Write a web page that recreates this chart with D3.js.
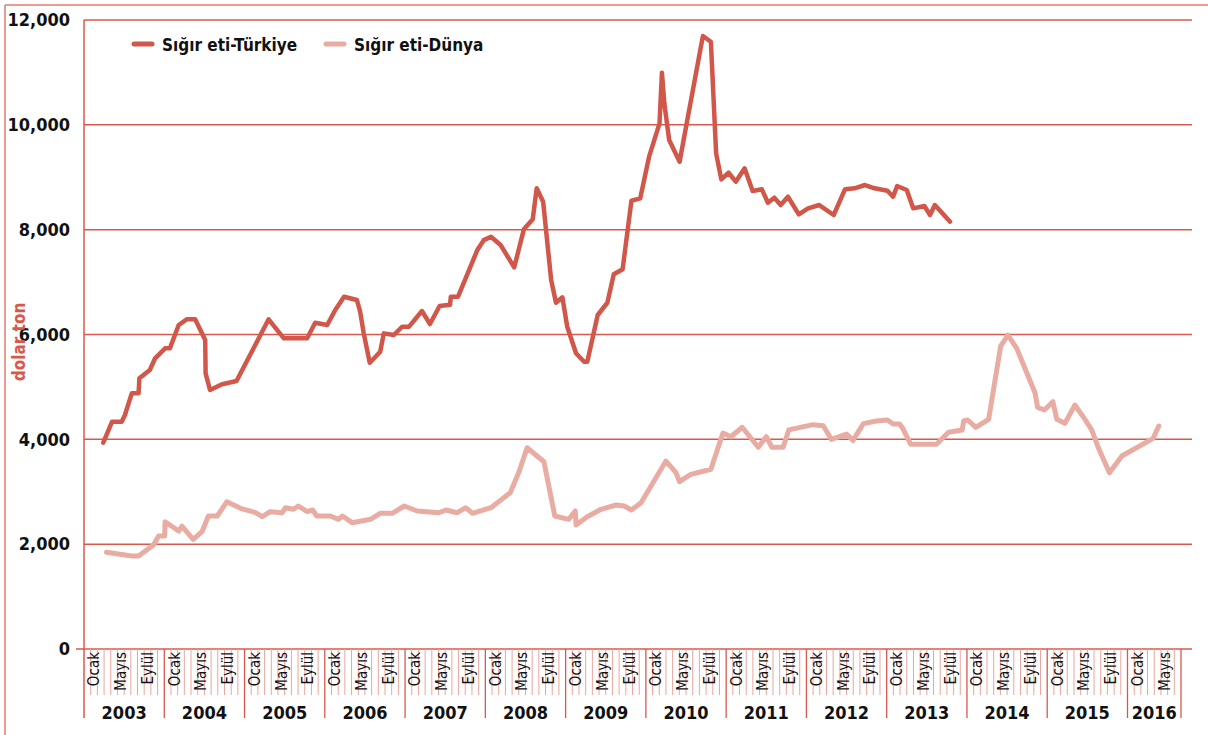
<!DOCTYPE html>
<html>
<head>
<meta charset="utf-8">
<script src="https://cdn.jsdelivr.net/npm/d3@7"></script>
<style>
  body { margin: 0; background: #fff; }
  svg text { font-family: "DejaVu Sans Condensed", "Liberation Sans Narrow", "Roboto", sans-serif; }
</style>
</head>
<body>
<svg width="1208" height="735"></svg>
<script>
// data (time as decimal year, values in dolar/ton)
const turkeyDates = [2003.24, 2003.35, 2003.47, 2003.51, 2003.595, 2003.68, 2003.69, 2003.82, 2003.886, 2004.01,
  2004.07, 2004.18, 2004.28, 2004.385, 2004.51, 2004.515, 2004.57, 2004.72, 2004.90, 2005.30,
  2005.49, 2005.78, 2005.88, 2006.03, 2006.13, 2006.24, 2006.40, 2006.44, 2006.485, 2006.56,
  2006.69, 2006.735, 2006.86, 2006.965, 2007.05, 2007.21, 2007.31, 2007.43, 2007.56, 2007.57,
  2007.66, 2007.78, 2007.90, 2007.98, 2008.07, 2008.19, 2008.36, 2008.48, 2008.59, 2008.64,
  2008.72, 2008.82, 2008.88, 2008.96, 2009.02, 2009.13, 2009.23, 2009.27, 2009.40, 2009.52,
  2009.60, 2009.71, 2009.82, 2009.93, 2010.04, 2010.17, 2010.20, 2010.23, 2010.29, 2010.42,
  2010.71, 2010.81, 2010.875, 2010.94, 2011.03, 2011.12, 2011.23, 2011.33, 2011.445, 2011.52,
  2011.60, 2011.68, 2011.77, 2011.905, 2012.02, 2012.16, 2012.34, 2012.48, 2012.60, 2012.73,
  2012.85, 2013.01, 2013.08, 2013.13, 2013.25, 2013.33, 2013.47, 2013.54, 2013.60, 2013.79];
const turkeyValues = [3936, 4336, 4336, 4464, 4878, 4878, 5164, 5322, 5546, 5736,
  5736, 6181, 6290, 6290, 5895, 5259, 4941, 5050, 5113, 6290,
  5927, 5927, 6225, 6181, 6467, 6721, 6658, 6435, 6022, 5462,
  5672, 6022, 5990, 6149, 6149, 6448, 6200, 6543, 6568, 6721,
  6721, 7167, 7612, 7800, 7865, 7707, 7282, 8006, 8197, 8789,
  8533, 7039, 6606, 6709, 6149, 5641, 5481, 5481, 6372, 6606,
  7148, 7244, 8552, 8598, 9392, 10029, 10994, 10410, 9710, 9296,
  11694, 11585, 9456, 8960, 9086, 8915, 9170, 8737, 8770, 8514,
  8610, 8470, 8629, 8293, 8407, 8470, 8280, 8770, 8789, 8852,
  8789, 8744, 8629, 8833, 8757, 8407, 8451, 8280, 8470, 8152];

const dunyaDates = [2003.28, 2003.595, 2003.68, 2003.865, 2003.93, 2004.005, 2004.01, 2004.18, 2004.22, 2004.36,
  2004.47, 2004.55, 2004.66, 2004.78, 2004.95, 2005.13, 2005.22, 2005.32, 2005.47, 2005.51,
  2005.61, 2005.67, 2005.78, 2005.85, 2005.90, 2006.07, 2006.17, 2006.22, 2006.34, 2006.57,
  2006.69, 2006.84, 2006.99, 2007.15, 2007.42, 2007.51, 2007.65, 2007.755, 2007.84, 2008.07,
  2008.31, 2008.42, 2008.52, 2008.73, 2008.865, 2009.04, 2009.12, 2009.13, 2009.27, 2009.44,
  2009.63, 2009.73, 2009.82, 2009.94, 2010.25, 2010.375, 2010.42, 2010.475, 2010.56, 2010.81,
  2010.96, 2011.06, 2011.20, 2011.40, 2011.50, 2011.57, 2011.71, 2011.78, 2012.08, 2012.21,
  2012.31, 2012.50, 2012.58, 2012.71, 2012.87, 2013.01, 2013.08, 2013.16, 2013.20, 2013.30,
  2013.62, 2013.77, 2013.94, 2013.96, 2014.01, 2014.11, 2014.27, 2014.42, 2014.51, 2014.62,
  2014.74, 2014.85, 2014.88, 2014.965, 2015.07, 2015.12, 2015.22, 2015.345, 2015.47, 2015.555,
  2015.64, 2015.775, 2015.93, 2016.32, 2016.39];
const dunyaValues = [1845, 1774, 1774, 1984, 2156, 2156, 2428, 2251, 2346, 2093,
  2238, 2537, 2537, 2810, 2684, 2608, 2524, 2619, 2600, 2696,
  2665, 2728, 2619, 2652, 2537, 2537, 2474, 2537, 2410, 2474,
  2589, 2589, 2728, 2633, 2600, 2652, 2600, 2696, 2589, 2696,
  2982, 3382, 3840, 3573, 2537, 2474, 2633, 2366, 2524, 2665,
  2747, 2728, 2652, 2791, 3586, 3363, 3191, 3250, 3330, 3430,
  4120, 4050, 4230, 3850, 4050, 3850, 3850, 4180, 4280, 4260,
  4000, 4100, 3980, 4300, 4350, 4370, 4292, 4292, 4210, 3905,
  3905, 4134, 4178, 4355, 4369, 4229, 4381, 5780, 5990, 5736,
  5290, 4878, 4611, 4559, 4718, 4381, 4305, 4655, 4381, 4178,
  3829, 3363, 3682, 4019, 4254];

const seriesNames = ['Sığır eti-Türkiye', 'Sığır eti-Dünya'];
const seriesColors = ['#d0574a', '#e8aca2'];
const years = d3.range(2003, 2017);
const monthLabels = ['Ocak', 'Mayıs', 'Eylül'];
const monthLabelIdx = [0, 4, 8];
const yTicks = [0, 2000, 4000, 6000, 8000, 10000, 12000];
const lastMonths = 8; // 2016 ends after Ağustos

const svg = d3.select('svg');
const red = '#d9584c';

const x = d3.scaleLinear().domain([2003, 2016 + lastMonths / 12]).range([84, 1181]);
const y = d3.scaleLinear().domain([0, 12000]).range([649, 20]);

// outer frame
svg.append('line').attr('x1', 5).attr('x2', 1208).attr('y1', 5).attr('y2', 5)
  .attr('stroke', '#e07b70').attr('stroke-width', 1.5);
svg.append('line').attr('x1', 5).attr('x2', 5).attr('y1', 5).attr('y2', 735)
  .attr('stroke', '#e07b70').attr('stroke-width', 1.5);

// gridlines
svg.append('g').selectAll('line').data(yTicks).join('line')
  .attr('x1', d => d === 0 ? 76 : 84).attr('x2', 1192)
  .attr('y1', d => y(d)).attr('y2', d => y(d))
  .attr('stroke', red).attr('stroke-width', 1.5);

// y axis labels
const yAxis = svg.append('g').attr('transform', 'translate(84,0)')
  .call(d3.axisLeft(y).tickValues(yTicks).tickSize(0).tickPadding(14).tickFormat(d3.format(',')));
yAxis.select('.domain').remove();
yAxis.selectAll('text').attr('font-size', 18).attr('font-weight', 'bold').attr('fill', '#111')
  .attr('font-family', '"DejaVu Sans Condensed", "Liberation Sans Narrow", sans-serif');

svg.append('line').attr('x1', 84).attr('x2', 84).attr('y1', 20).attr('y2', 718)
  .attr('stroke', red).attr('stroke-width', 1.5);

svg.append('text').attr('transform', 'translate(25,342) rotate(-90)')
  .attr('text-anchor', 'middle').attr('font-size', 17).attr('font-weight', 'bold')
  .attr('fill', red).text('dolar ton');

// month / year ticks
const nMonths = (2016 - 2003) * 12 + lastMonths;
const months = d3.range(1, nMonths + 1);
svg.append('g').selectAll('line').data(months).join('line')
  .attr('x1', m => x(2003 + m / 12)).attr('x2', m => x(2003 + m / 12))
  .attr('y1', 649)
  .attr('y2', m => (m % 12 === 0 || m === nMonths) ? 718 : 695)
  .attr('stroke', m => (m % 12 === 0 || m === nMonths) ? red : '#eba59d')
  .attr('stroke-width', m => (m % 12 === 0 || m === nMonths) ? 1.3 : 1);

const mlab = [];
years.forEach(yr => {
  monthLabels.forEach((name, i) => {
    const m = monthLabelIdx[i];
    if (yr < 2016 || m < lastMonths) mlab.push({ yr, m, name });
  });
});
svg.append('g').selectAll('text').data(mlab).join('text')
  .attr('transform', d => `translate(${x(d.yr + (d.m + 2.3) / 12)},652) rotate(-90)`)
  .attr('text-anchor', 'end').attr('font-size', 15).attr('fill', '#111')
  .text(d => d.name);

svg.append('g').selectAll('text').data(years).join('text')
  .attr('x', d => (x(d) + x(Math.min(d + 1, 2016 + lastMonths / 12))) / 2)
  .attr('y', 719).attr('text-anchor', 'middle')
  .attr('font-size', 18).attr('font-weight', 'bold').attr('fill', '#111')
  .text(d => d);

// lines
const line = d3.line().x(d => x(d[0])).y(d => y(d[1]));
const series = [
  d3.zip(turkeyDates, turkeyValues),
  d3.zip(dunyaDates, dunyaValues)
];
svg.append('path').datum(series[1]).attr('d', line).attr('fill', 'none')
  .attr('stroke', seriesColors[1]).attr('stroke-width', 5)
  .attr('stroke-linejoin', 'round').attr('stroke-linecap', 'round');
svg.append('path').datum(series[0]).attr('d', line).attr('fill', 'none')
  .attr('stroke', seriesColors[0]).attr('stroke-width', 4.5)
  .attr('stroke-linejoin', 'round').attr('stroke-linecap', 'round');

// legend
const legX = [134, 326];
const leg = svg.append('g').selectAll('g').data(seriesNames).join('g')
  .attr('transform', (d, i) => `translate(${legX[i]},44)`);
leg.append('line').attr('x1', 0).attr('x2', 18).attr('y1', 0).attr('y2', 0)
  .attr('stroke', (d, i) => seriesColors[i]).attr('stroke-width', 5).attr('stroke-linecap', 'round');
leg.append('text').attr('x', 28).attr('y', 7).attr('font-size', 17).attr('font-weight', 'bold')
  .attr('fill', '#111').text(d => d);
</script>
</body>
</html>
